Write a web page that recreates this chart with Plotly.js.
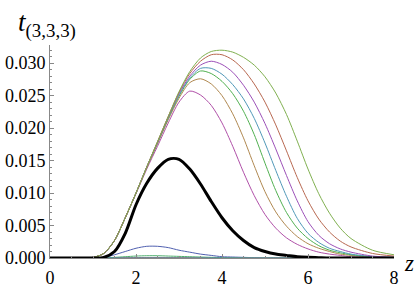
<!DOCTYPE html>
<html><head><meta charset="utf-8">
<script src="https://cdn.plot.ly/plotly-3.0.1.min.js"></script>
<style>html,body{margin:0;padding:0;background:#fff}#chart{width:415px;height:287px}</style>
</head><body><div id="chart"></div>
<script>
const z = [0,0.5,1,1.25,1.5,1.75,2,2.25,2.5,2.75,3,3.25,3.5,3.75,4,4.25,4.5,4.75,5,5.25,5.5,5.75,6,6.25,6.5,6.75,7,7.5,8];

const c1 = [0,0,0,0.0001,0.0005,0.0010,0.0015,0.0018,0.0018,0.0016,0.0012,0.0009,0.0006,0.0004,0.0002,0.00015,0.0001,0.00005,0,0,0,0,0,0,0,0,0,0,0];
const c2 = [0,0,0,0,0,0.00002,0.00004,0.00005,0.00005,0.00004,0.00003,0.00002,0.00001,0,0,0,0,0,0,0,0,0,0,0,0,0,0,0,0];
const c3 = [0,0,0,0,0.00001,0.00002,0.00003,0.00004,0.00004,0.00004,0.00003,0.00002,0.00001,0,0,0,0,0,0,0,0,0,0,0,0,0,0,0,0];
const c4 = [0,0,0,0.00002,0.0001,0.0002,0.0003,0.00035,0.00035,0.0003,0.00025,0.0002,0.00015,0.0001,0.00007,0.00004,0.00002,0,0,0,0,0,0,0,0,0,0,0,0];
const c5 = [0,0,0,0,0,0.00001,0.00002,0.00002,0.00002,0.00002,0.00001,0.00001,0,0,0,0,0,0,0,0,0,0,0,0,0,0,0,0,0];
const c6 = [0,0,0.0001,0.0007,0.0027,0.0062,0.0099,0.0137,0.0172,0.0208,0.0240,0.0257,0.0251,0.0235,0.0208,0.0172,0.0132,0.0096,0.0067,0.0046,0.0031,0.0021,0.0014,0.0009,0.0006,0.0004,0.0002,0.0001,0];
const c7 = [0,0,0.0001,0.0007,0.0027,0.0062,0.0100,0.0139,0.0176,0.0213,0.0246,0.0270,0.0276,0.0268,0.0250,0.0222,0.0185,0.0142,0.0102,0.0071,0.0049,0.0033,0.0022,0.0015,0.0010,0.0006,0.0004,0.0001,0];
const c8 = [0,0,0.0001,0.0007,0.0027,0.0062,0.0100,0.0140,0.0177,0.0215,0.0249,0.0275,0.0288,0.0284,0.0272,0.0253,0.0226,0.0190,0.0146,0.0104,0.0070,0.0046,0.0030,0.0019,0.0012,0.0008,0.0005,0.0002,0.0001];
const c9 = [0,0,0.0001,0.0007,0.0027,0.0062,0.0100,0.0140,0.0178,0.0216,0.0251,0.0277,0.0292,0.0292,0.0283,0.0267,0.0245,0.0215,0.0177,0.0135,0.0095,0.0061,0.0038,0.0024,0.0015,0.0010,0.0006,0.0002,0.0001];
const c10 = [0,0,0.0001,0.0007,0.0027,0.0062,0.0100,0.0140,0.0178,0.0217,0.0253,0.0280,0.0297,0.0303,0.0298,0.0286,0.0266,0.0240,0.0207,0.0168,0.0127,0.0088,0.0056,0.0035,0.0022,0.0014,0.0009,0.0003,0.0001];
const c11 = [0,0,0.0001,0.0007,0.0027,0.0062,0.0100,0.0140,0.0179,0.0218,0.0255,0.0284,0.0303,0.0313,0.0313,0.0305,0.0290,0.0268,0.0240,0.0205,0.0165,0.0124,0.0088,0.0060,0.0040,0.0026,0.0017,0.0007,0.0003];
const c12 = [0,0,0.0001,0.0007,0.0027,0.0062,0.0100,0.0140,0.0179,0.0218,0.0256,0.0287,0.0308,0.0318,0.0320,0.0317,0.0309,0.0297,0.0279,0.0254,0.0221,0.0180,0.0137,0.0099,0.0069,0.0046,0.0030,0.0012,0.0005];
const total = [0,0,0,0.0001,0.0010,0.0038,0.0082,0.0115,0.0138,0.0152,0.0152,0.0137,0.0114,0.0087,0.0062,0.0042,0.0027,0.0016,0.0010,0.0006,0.0004,0.0002,0.0001,0.00005,0,0,0,0,0];

const xTicks = [0,2,4,6,8];
const xTickText = ['0','2','4','6','8'];
const yTicks = [0,0.005,0.01,0.015,0.02,0.025,0.03];
const yTickText = ['0.000','0.005','0.010','0.015','0.020','0.025','0.030'];

const series = [c1,c2,c3,c4,c5,c6,c7,c8,c9,c10,c11,c12];
const colors = ['#5060b0','#b05088','#b0a050','#50b070','#5078b0','#b050a8','#b08850','#50b050','#5098b8','#9c50b8','#b86850','#80b050'];

const traces = series.map((s,i)=>({x:z,y:s,type:'scatter',mode:'lines',line:{color:colors[i],width:1,shape:'spline',smoothing:0.8},hoverinfo:'skip'}));
traces.push({x:z,y:total,type:'scatter',mode:'lines',line:{color:'#000',width:3,shape:'spline',smoothing:0.8},hoverinfo:'skip'});

const fam = 'Liberation Serif';
const layout = {
  width:415,height:287,
  margin:{l:50,r:21,t:45,b:29},
  paper_bgcolor:'#fff',plot_bgcolor:'#fff',
  showlegend:false,
  font:{family:fam,size:18,color:'#000'},
  xaxis:{range:[0,8],showgrid:false,zeroline:false,showline:true,linecolor:'#888',linewidth:1,
    ticks:'inside',ticklen:4,tickcolor:'#888',tickvals:xTicks,ticktext:xTickText,ticklabelstandoff:3,
    minor:{tickvals:[0.5,1,1.5,2.5,3,3.5,4.5,5,5.5,6.5,7,7.5],ticklen:2,tickcolor:'#888',ticks:'inside'}},
  yaxis:{range:[0,0.0328],showgrid:false,zeroline:false,showline:true,linecolor:'#888',linewidth:1,
    ticks:'inside',ticklen:4,tickcolor:'#888',tickvals:yTicks,ticktext:yTickText,
    minor:{dtick:0.001,ticklen:2,tickcolor:'#888',ticks:'inside'}},
  annotations:[
    {text:'<i>t</i><sub>(3,3,3)</sub>',xref:'paper',yref:'paper',x:-0.098,y:1.0,xanchor:'left',yanchor:'bottom',showarrow:false,font:{size:27,family:fam,color:'#000'},yshift:1},
    {text:'<i>z</i>',xref:'paper',yref:'paper',x:1.0,y:0,xanchor:'left',yanchor:'middle',showarrow:false,font:{size:23,family:fam,color:'#000'},xshift:8,yshift:-5}
  ]
};
Plotly.newPlot('chart',traces,layout,{staticPlot:true,displayModeBar:false});
</script></body></html>
